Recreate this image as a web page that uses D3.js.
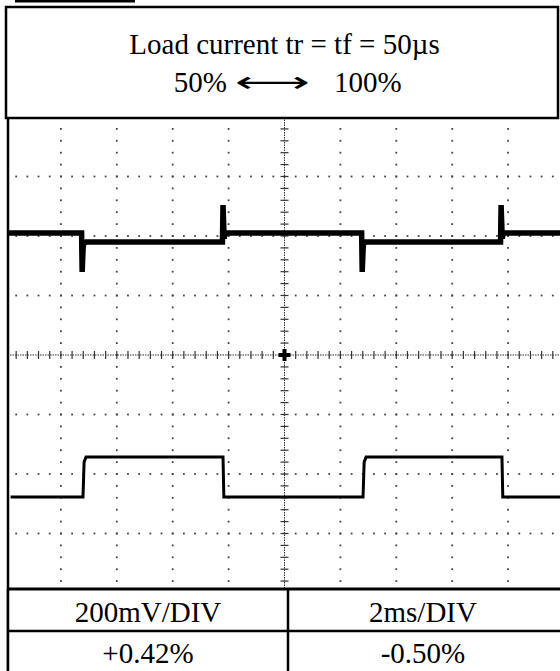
<!DOCTYPE html>
<html>
<head>
<meta charset="utf-8">
<script src="https://cdn.jsdelivr.net/npm/d3@7"></script>
<style>
  html, body { margin: 0; padding: 0; background: #fff; }
  svg { display: block; }
</style>
</head>
<body>
<svg id="chart" width="560" height="671"></svg>
<script>
// ---- data (time in ms, signal in mV at 200 mV/DIV, 2 ms/DIV) ----
const titleLines = ["Load current tr = tf = 50\u00b5s"];
const loadLeft = "50%";
const loadRight = "100%";
const scaleLabels = ["200mV/DIV", "2ms/DIV"];
const regulationLabels = ["+0.42%", "-0.50%"];

// output voltage (upper trace)
const outTime = [0.1, 2.74, 2.76, 2.80, 2.9, 7.78, 7.80, 7.84, 7.88, 12.76, 12.78, 12.82, 12.9, 17.73, 17.75, 17.79, 17.83, 20];
const outVolt = [410, 410, 279, 372, 380, 380, 504, 392, 410, 410, 279, 372, 380, 380, 504, 392, 410, 410];

// load current (lower trace)
const curTime = [0.2, 2.79, 2.83, 2.9, 7.80, 7.83, 12.81, 12.85, 12.92, 17.78, 17.81, 20];
const curVolt = [-477, -477, -360, -343, -343, -477, -477, -360, -343, -343, -477, -477];

// ---- layout ----
const svg = d3.select("#chart");
const W = 560, H = 671;
const x = d3.scaleLinear().domain([0, 20]).range([5, 564]);
const y = d3.scaleLinear().domain([-800, 800]).range([593, 117]);

const divX = d3.range(0, 20.001, 2);
const divY = d3.range(-800, 800.001, 200);
const subX = d3.range(0, 20.001, 0.4);
const subY = d3.range(-800, 800.001, 40);

svg.append("defs").append("clipPath").attr("id", "plotclip")
  .append("rect").attr("x", 8).attr("y", 117).attr("width", W - 8).attr("height", 589 - 117);

const plot = svg.append("g").attr("clip-path", "url(#plotclip)");

// dotted graticule
const dots = [];
divY.forEach(v => { if (v !== 0) subX.forEach(t => dots.push([t, v])); });
divX.forEach(t => { if (t !== 10) subY.forEach(v => dots.push([t, v])); });
plot.append("g").selectAll("rect").data(dots).join("rect")
  .attr("x", d => x(d[0]) - 0.9).attr("y", d => y(d[1]) - 0.9)
  .attr("width", 1.8).attr("height", 1.8).attr("fill", "#444");

// center axes with ticks
const axes = plot.append("g").attr("stroke", "#333");
axes.append("line").attr("x1", x(0)).attr("x2", x(20)).attr("y1", y(0)).attr("y2", y(0))
  .attr("stroke-width", 1).attr("stroke-dasharray", "1.5,1");
axes.append("line").attr("x1", x(10)).attr("x2", x(10)).attr("y1", y(800)).attr("y2", y(-800))
  .attr("stroke-width", 1).attr("stroke-dasharray", "1.5,1");
axes.selectAll(".tx").data(subX).join("line").attr("class", "tx")
  .attr("x1", d => x(d)).attr("x2", d => x(d))
  .attr("y1", y(0) - 4).attr("y2", y(0) + 4).attr("stroke-width", 1.2);
axes.selectAll(".ty").data(subY).join("line").attr("class", "ty")
  .attr("y1", d => y(d)).attr("y2", d => y(d))
  .attr("x1", x(10) - 4).attr("x2", x(10) + 4).attr("stroke-width", 1.2);
axes.append("rect").attr("x", x(10) - 2).attr("y", y(0) - 6).attr("width", 4).attr("height", 12)
  .attr("fill", "#000").attr("stroke", "none");
axes.append("rect").attr("x", x(10) - 6).attr("y", y(0) - 2).attr("width", 12).attr("height", 4)
  .attr("fill", "#000").attr("stroke", "none");

// traces
const line = d3.line().x(d => x(d[0])).y(d => y(d[1]));
plot.append("path").datum(outTime.map((t, i) => [t, outVolt[i]]))
  .attr("d", line).attr("fill", "none").attr("stroke", "#000")
  .attr("stroke-width", 5.5).attr("stroke-linejoin", "miter");
plot.append("path").datum(outTime.map((t, i) => [t, outVolt[i]]))
  .attr("d", line).attr("fill", "none").attr("stroke", "#000")
  .attr("stroke-width", 2).attr("stroke-linejoin", "miter");
plot.append("path").datum(curTime.map((t, i) => [t, curVolt[i]]))
  .attr("d", line).attr("fill", "none").attr("stroke", "#000")
  .attr("stroke-width", 3).attr("stroke-linejoin", "miter");

// frame pieces
svg.append("rect").attr("x", 15).attr("y", 0).attr("width", 120).attr("height", 2.5).attr("fill", "#000");
svg.append("rect").attr("x", 6).attr("y", 7).attr("width", 552).attr("height", 111)
  .attr("fill", "#fff").attr("stroke", "#000").attr("stroke-width", 2.5);
svg.append("line").attr("x1", 8).attr("x2", 8).attr("y1", 117).attr("y2", H)
  .attr("stroke", "#000").attr("stroke-width", 2.5);

// header text
const serif = "'Liberation Serif', 'Times New Roman', serif";
svg.append("text").attr("x", 284.5).attr("y", 54).attr("text-anchor", "middle")
  .attr("font-family", serif).attr("font-size", 29).text(titleLines[0]);
svg.append("text").attr("x", 227).attr("y", 92).attr("text-anchor", "end")
  .attr("font-family", serif).attr("font-size", 29).text(loadLeft);
svg.append("text").attr("x", 235).attr("y", 92)
  .attr("font-family", "'DejaVu Sans', sans-serif").attr("font-size", 29)
  .attr("textLength", 75).attr("lengthAdjust", "spacingAndGlyphs").text("\u27F7");
svg.append("text").attr("x", 334).attr("y", 92)
  .attr("font-family", serif).attr("font-size", 29).text(loadRight);

// bottom table
const tbl = svg.append("g");
tbl.append("rect").attr("x", 8).attr("y", 589).attr("width", W - 8).attr("height", H - 589).attr("fill", "#fff");
tbl.append("line").attr("x1", 7).attr("x2", W).attr("y1", 589).attr("y2", 589).attr("stroke", "#000").attr("stroke-width", 3);
tbl.append("line").attr("x1", 7).attr("x2", W).attr("y1", 631).attr("y2", 631).attr("stroke", "#000").attr("stroke-width", 2.5);
tbl.append("line").attr("x1", 8).attr("x2", 8).attr("y1", 589).attr("y2", H).attr("stroke", "#000").attr("stroke-width", 2.5);
tbl.append("line").attr("x1", 288).attr("x2", 288).attr("y1", 589).attr("y2", H).attr("stroke", "#000").attr("stroke-width", 2.5);
const colX = [148, 423];
scaleLabels.forEach((s, i) => tbl.append("text").attr("x", colX[i]).attr("y", 622)
  .attr("text-anchor", "middle").attr("font-family", serif).attr("font-size", 29).text(s));
regulationLabels.forEach((s, i) => tbl.append("text").attr("x", colX[i]).attr("y", 663)
  .attr("text-anchor", "middle").attr("font-family", serif).attr("font-size", 29).text(s));
</script>
</body>
</html>
